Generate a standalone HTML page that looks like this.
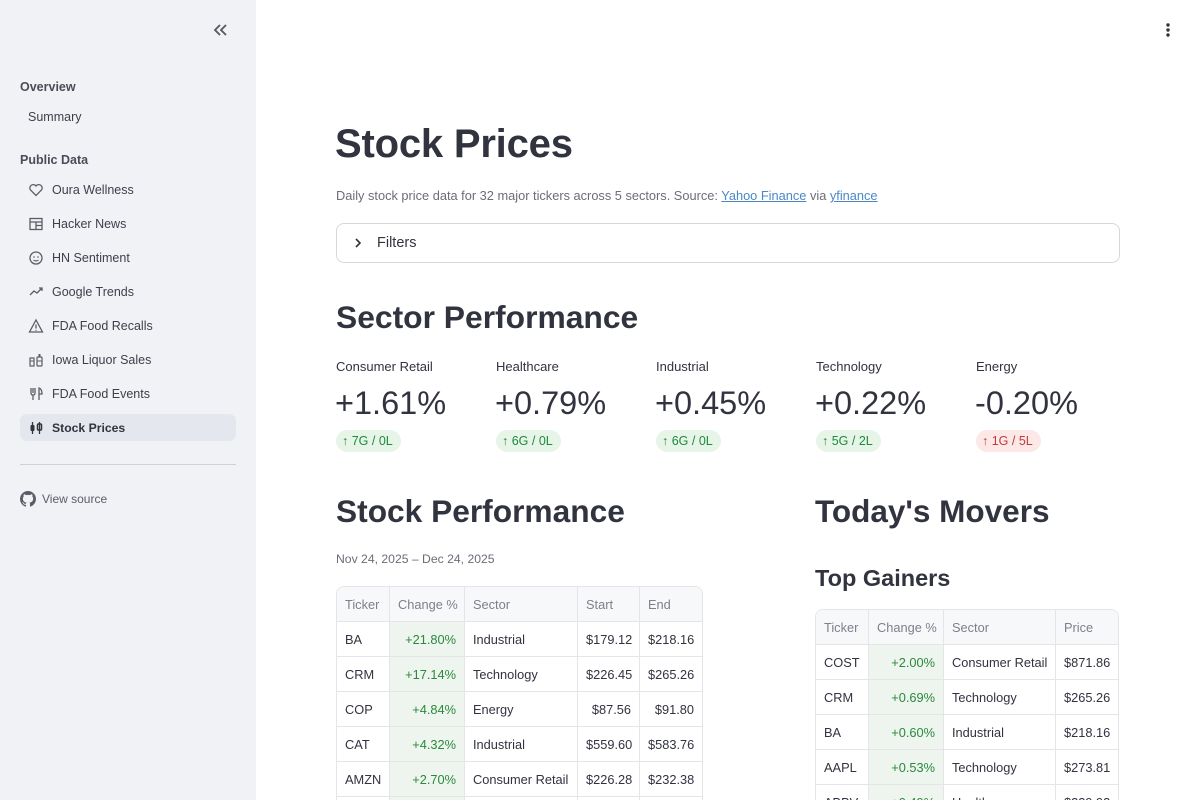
<!DOCTYPE html>
<html><head><meta charset="utf-8">
<style>
*{margin:0;padding:0;box-sizing:border-box}
html,body{width:1200px;height:800px;overflow:hidden;background:#fff;font-family:"Liberation Sans",sans-serif;color:#31333f}
#wrap{position:relative;width:1200px;height:800px;overflow:hidden;background:#fff}
.abs{position:absolute;white-space:nowrap}
#side{position:absolute;left:0;top:0;width:256px;height:800px;background:#f0f2f6}
.sh{font-size:12.5px;font-weight:bold;color:#4a4c57;line-height:16px}
.ni{font-size:12.5px;color:#3d3f4b;line-height:16px}
.ic{position:absolute;width:16px;height:16px}
.lbl{font-size:13px;color:#31333f;line-height:16px}
.val{font-size:32.5px;color:#31333f;line-height:38px}
.badge{position:absolute;height:22px;border-radius:11px;font-size:12.5px;line-height:22px;padding:0 8px 0 6px}
.g{background:#e7f5e9;color:#1e8a3c}
.r{background:#fde8e8;color:#c23b3b}
h1,h2,h3{font-weight:bold;color:#31333f;position:absolute;white-space:nowrap}
table{position:absolute;border-collapse:separate;border-spacing:0;table-layout:fixed;font-size:12.8px;border:1px solid #e4e5e9;border-radius:8px;overflow:hidden}
td,th{height:35px;border-right:1px solid #e4e5e9;border-bottom:1px solid #e4e5e9;padding:0 8px;white-space:nowrap;overflow:hidden;font-weight:normal;text-align:left}
th{height:35px;background:#f7f8fa;color:#7d808d}
tr td:last-child,tr th:last-child{border-right:none}
td.c{background:#eef4ee;color:#2a8a3c;text-align:right}
td.n{text-align:right}
</style></head><body>
<div id="wrap">
<div id="side">
  <svg class="abs" style="left:212px;top:23px" width="16" height="14" viewBox="0 0 16 14"><path d="M8 2 L3 7 L8 12 M14 2 L9 7 L14 12" fill="none" stroke="#55575f" stroke-width="1.8"/></svg>
  <div class="abs sh" style="left:20px;top:79px">Overview</div>
  <div class="abs ni" style="left:28px;top:109px">Summary</div>
  <div class="abs sh" style="left:20px;top:152px">Public Data</div>

  <svg class="ic" style="left:28px;top:182px" viewBox="0 0 16 16"><path d="M8 13.5 L2.5 8 A3 3 0 0 1 8 4 A3 3 0 0 1 13.5 8 Z" fill="none" stroke="#5b5d67" stroke-width="1.3"/></svg>
  <div class="abs ni" style="left:52px;top:182px">Oura Wellness</div>

  <svg class="ic" style="left:28px;top:216px" viewBox="0 0 16 16"><rect x="2" y="2.5" width="12" height="11" fill="none" stroke="#5b5d67" stroke-width="1.3"/><path d="M2 6h12M8 6v7.5M8 9.5h6" stroke="#5b5d67" stroke-width="1.3"/></svg>
  <div class="abs ni" style="left:52px;top:216px">Hacker News</div>

  <svg class="ic" style="left:28px;top:250px" viewBox="0 0 16 16"><circle cx="8" cy="8" r="6" fill="none" stroke="#5b5d67" stroke-width="1.3"/><circle cx="6" cy="7" r=".8" fill="#5b5d67"/><circle cx="10" cy="7" r=".8" fill="#5b5d67"/><path d="M5.5 10 Q8 12 10.5 10" fill="none" stroke="#5b5d67" stroke-width="1.1"/></svg>
  <div class="abs ni" style="left:52px;top:250px">HN Sentiment</div>

  <svg class="ic" style="left:28px;top:284px" viewBox="0 0 16 16"><path d="M2 11 L6 7 L9 9 L14 4 M11 4h3v3" fill="none" stroke="#5b5d67" stroke-width="1.3"/></svg>
  <div class="abs ni" style="left:52px;top:284px">Google Trends</div>

  <svg class="ic" style="left:28px;top:318px" viewBox="0 0 16 16"><path d="M8 2 L14.5 14 H1.5 Z" fill="none" stroke="#5b5d67" stroke-width="1.3"/><path d="M8 6.5v4M8 11.8v1" stroke="#5b5d67" stroke-width="1.3"/></svg>
  <div class="abs ni" style="left:52px;top:318px">FDA Food Recalls</div>

  <svg class="ic" style="left:28px;top:352px" viewBox="0 0 16 16"><rect x="2" y="6" width="4" height="8" fill="none" stroke="#5b5d67" stroke-width="1.2"/><rect x="9" y="5" width="5" height="9" rx="1" fill="none" stroke="#5b5d67" stroke-width="1.2"/><rect x="10.5" y="2" width="2" height="3" fill="#5b5d67"/><path d="M2 9h4M9 9h5" stroke="#5b5d67"/></svg>
  <div class="abs ni" style="left:52px;top:352px">Iowa Liquor Sales</div>

  <svg class="ic" style="left:28px;top:386px" viewBox="0 0 16 16"><path d="M3 2v5q0 2 2 2v5M5 2v5M7 2v5q0 2-2 2M11 14V2q3 1 3 6h-3" fill="none" stroke="#5b5d67" stroke-width="1.3"/></svg>
  <div class="abs ni" style="left:52px;top:386px">FDA Food Events</div>

  <div class="abs" style="left:20px;top:414px;width:216px;height:27px;background:#e4e7ee;border-radius:7px"></div>
  <svg class="ic" style="left:28px;top:420px" viewBox="0 0 16 16"><path d="M4.5 2v12M11.5 2v12" stroke="#31333f" stroke-width="1.3"/><rect x="2.5" y="5" width="4" height="6" rx="1" fill="#31333f"/><rect x="9.5" y="4" width="4" height="6" rx="1" fill="none" stroke="#31333f" stroke-width="1.5"/></svg>
  <div class="abs ni" style="left:52px;top:420px;font-weight:bold;color:#31333f;font-size:12.2px">Stock Prices</div>

  <div class="abs" style="left:20px;top:464px;width:216px;height:1px;background:#cfd1d7"></div>
  <svg class="ic" style="left:20px;top:491px" viewBox="0 0 16 16"><path fill="#5b5d67" d="M8 0C3.58 0 0 3.58 0 8c0 3.54 2.29 6.53 5.47 7.59.4.07.55-.17.55-.38 0-.19-.01-.82-.01-1.490-2.01.37-2.53-.49-2.69-.94-.09-.23-.48-.94-.82-1.13-.28-.15-.68-.52-.01-.53.63-.01 1.08.58 1.23.82.72 1.21 1.87.87 2.33.66.07-.52.28-.87.51-1.07-1.78-.2-3.64-.89-3.64-3.95 0-.87.31-1.59.82-2.15-.08-.2-.36-1.02.08-2.12 0 0 .67-.21 2.2.82.64-.18 1.32-.27 2-.27.68 0 1.36.09 2 .27 1.53-1.040 2.2-.82 2.2-.82.44 1.1.16 1.92.08 2.12.51.56.82 1.27.82 2.15 0 3.07-1.87 3.75-3.65 3.95.29.25.54.73.54 1.48 0 1.07-.01 1.93-.01 2.2 0 .21.15.46.55.38A8.013 8.013 0 0016 8c0-4.42-3.58-8-8-8z"/></svg>
  <div class="abs" style="left:42px;top:492px;font-size:12px;color:#5b5d67;line-height:15px">View source</div>
</div>

<svg class="abs" style="left:1164px;top:22px" width="8" height="16" viewBox="0 0 8 16"><circle cx="4" cy="3" r="1.7" fill="#31333f"/><circle cx="4" cy="8" r="1.7" fill="#31333f"/><circle cx="4" cy="13" r="1.7" fill="#31333f"/></svg>

<h1 style="left:335px;top:120px;font-size:40px;line-height:48px;letter-spacing:-0.2px">Stock Prices</h1>
<div class="abs" style="left:336px;top:188px;font-size:12.8px;line-height:16px;color:#6b6d78">Daily stock price data for 32 major tickers across 5 sectors. Source: <span style="color:#4a88c7;text-decoration:underline">Yahoo Finance</span> via <span style="color:#4a88c7;text-decoration:underline">yfinance</span></div>

<div class="abs" style="left:336px;top:223px;width:784px;height:40px;border:1px solid #d6d8de;border-radius:8px"></div>
<svg class="abs" style="left:353px;top:237px" width="10" height="12" viewBox="0 0 10 12"><path d="M3 2 L7 6 L3 10" fill="none" stroke="#31333f" stroke-width="1.6"/></svg>
<div class="abs" style="left:377px;top:234px;font-size:14.5px;line-height:18px">Filters</div>

<h2 style="left:336px;top:297px;font-size:31.8px;line-height:40px">Sector Performance</h2>

<div class="abs lbl" style="left:336px;top:359px">Consumer Retail</div>
<div class="abs val" style="left:335px;top:384px">+1.61%</div>
<div class="badge g" style="left:336px;top:430px">↑ 7G / 0L</div>

<div class="abs lbl" style="left:496px;top:359px">Healthcare</div>
<div class="abs val" style="left:495px;top:384px">+0.79%</div>
<div class="badge g" style="left:496px;top:430px">↑ 6G / 0L</div>

<div class="abs lbl" style="left:656px;top:359px">Industrial</div>
<div class="abs val" style="left:655px;top:384px">+0.45%</div>
<div class="badge g" style="left:656px;top:430px">↑ 6G / 0L</div>

<div class="abs lbl" style="left:816px;top:359px">Technology</div>
<div class="abs val" style="left:815px;top:384px">+0.22%</div>
<div class="badge g" style="left:816px;top:430px">↑ 5G / 2L</div>

<div class="abs lbl" style="left:976px;top:359px">Energy</div>
<div class="abs val" style="left:975px;top:384px">-0.20%</div>
<div class="badge r" style="left:976px;top:430px">↑ 1G / 5L</div>

<h2 style="left:336px;top:491px;font-size:31.7px;line-height:40px">Stock Performance</h2>
<div class="abs" style="left:336px;top:551px;font-size:12.2px;line-height:16px;color:#6b6d78">Nov 24, 2025 – Dec 24, 2025</div>

<table style="left:336px;top:586px;width:366px">
<colgroup><col style="width:53px"><col style="width:75px"><col style="width:113px"><col style="width:62px"><col style="width:62px"></colgroup>
<tr><th>Ticker</th><th>Change %</th><th>Sector</th><th>Start</th><th>End</th></tr>
<tr><td>BA</td><td class="c">+21.80%</td><td>Industrial</td><td class="n">$179.12</td><td class="n">$218.16</td></tr>
<tr><td>CRM</td><td class="c">+17.14%</td><td>Technology</td><td class="n">$226.45</td><td class="n">$265.26</td></tr>
<tr><td>COP</td><td class="c">+4.84%</td><td>Energy</td><td class="n">$87.56</td><td class="n">$91.80</td></tr>
<tr><td>CAT</td><td class="c">+4.32%</td><td>Industrial</td><td class="n">$559.60</td><td class="n">$583.76</td></tr>
<tr><td>AMZN</td><td class="c">+2.70%</td><td>Consumer Retail</td><td class="n">$226.28</td><td class="n">$232.38</td></tr>
<tr><td>HD</td><td class="c">+2.41%</td><td>Consumer Retail</td><td class="n">$340.10</td><td class="n">$348.30</td></tr>
</table>

<h2 style="left:815px;top:491px;font-size:31.5px;line-height:40px">Today's Movers</h2>
<h3 style="left:815px;top:564px;font-size:23.5px;line-height:28px">Top Gainers</h3>

<table style="left:815px;top:609px;width:303px">
<colgroup><col style="width:53px"><col style="width:75px"><col style="width:112px"><col style="width:62px"></colgroup>
<tr><th>Ticker</th><th>Change %</th><th>Sector</th><th>Price</th></tr>
<tr><td>COST</td><td class="c">+2.00%</td><td>Consumer Retail</td><td class="n">$871.86</td></tr>
<tr><td>CRM</td><td class="c">+0.69%</td><td>Technology</td><td class="n">$265.26</td></tr>
<tr><td>BA</td><td class="c">+0.60%</td><td>Industrial</td><td class="n">$218.16</td></tr>
<tr><td>AAPL</td><td class="c">+0.53%</td><td>Technology</td><td class="n">$273.81</td></tr>
<tr><td>ABBV</td><td class="c">+0.49%</td><td>Healthcare</td><td class="n">$229.92</td></tr>
</table>
</div>
</body></html>
